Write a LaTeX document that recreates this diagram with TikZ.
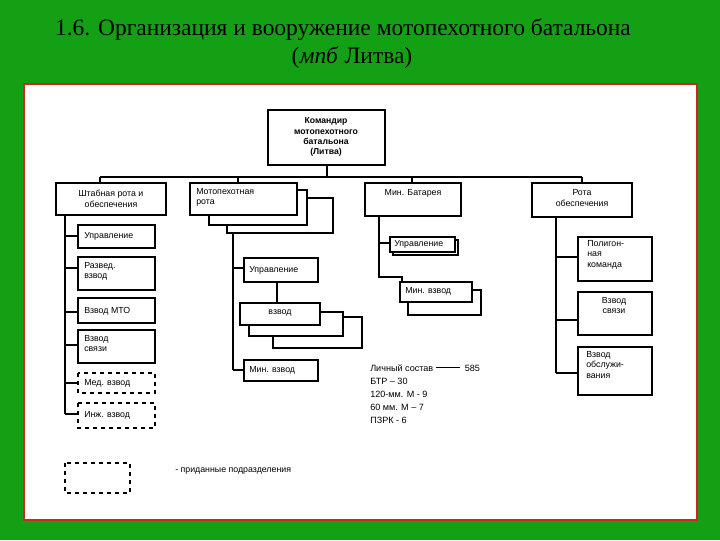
\documentclass[tikz,border=0pt]{standalone}
\usepackage{fontspec}
\setmainfont{Liberation Sans}
\newfontfamily\titlefont{Liberation Serif}
\definecolor{bg}{RGB}{20,160,20}
\definecolor{frame}{RGB}{200,40,30}
\begin{document}
\begin{tikzpicture}[x=0.75pt,y=-0.75pt,
  bx/.style={draw,line width=1pt,fill=white},
  dbx/.style={draw,line width=1pt,dashed,fill=white},
  ln/.style={line width=0.9pt},
  txt/.style={font=\fontsize{6.6}{7.8}\selectfont,align=left,anchor=north west,inner sep=0pt}]
\fill[bg] (0,0) rectangle (720,540);
\fill[white,draw=frame,line width=2pt] (24,84) rectangle (697,520);
\node[font=\titlefont\fontsize{17.6}{20}\selectfont] (t1) at (343,30) {1.6. Организация и вооружение мотопехотного батальона};
\node[font=\titlefont\fontsize{17.6}{20}\selectfont] (t2) at (352,58) {(\textit{мпб} Литва)};
% bus
\draw[ln] (100,177) -- (582,177);
\foreach \x in {100,238,412,582} \draw[ln] (\x,177) -- (\x,183);
\draw[ln] (327,165) -- (327,177);
% commander
\draw[bx] (268,110) rectangle (385,165);
\node[font=\bfseries\fontsize{6.5}{7.6}\selectfont,align=center] (cmd) at (326,137) {Командир\\мотопехотного\\батальона\\(Литва)};
% level 1
\draw[bx] (56,183) rectangle (166,215);
\node[txt,align=center,anchor=center] (a) at (111,199) {Штабная рота и\\обеспечения};
\draw[bx] (227,198) rectangle (333,233);
\draw[bx] (209,190) rectangle (307,225);
\draw[bx] (190,183) rectangle (297,215);
\node[txt] (b) at (196,188) {Мотопехотная\\рота};
\draw[bx] (365,183) rectangle (461,216);
\node[txt,anchor=center] (c) at (413,193) {Мин. Батарея};
\draw[bx] (532,183) rectangle (632,217);
\node[txt,align=center,anchor=center] (d) at (582,198) {Рота\\обеспечения};
% left column
\draw[ln] (65,215) -- (65,414);
\foreach \y in {236,268,312,345,383,414} \draw[ln] (65,\y) -- (78,\y);
\draw[bx] (78,225) rectangle (155,248); \node[txt,anchor=west] (a1) at (84,236) {Управление};
\draw[bx] (78,257) rectangle (155,290); \node[txt] (a2) at (84,262) {Развед.\\взвод};
\draw[bx] (78,298) rectangle (155,323); \node[txt,anchor=west] (a3) at (84,311) {Взвод МТО};
\draw[bx] (78,330) rectangle (155,363); \node[txt] (a4) at (84,335) {Взвод\\связи};
\draw[dbx] (78,373) rectangle (155,393); \node[txt,anchor=west] (a5) at (84,383) {Мед. взвод};
\draw[dbx] (78,403) rectangle (155,428); \node[txt,anchor=west] (a6) at (84,415) {Инж. взвод};
% motor rifle company
\draw[ln] (233,233) -- (233,370);
\draw[ln] (233,268) -- (244,268);
\draw[ln] (233,370) -- (244,370);
\draw[bx] (244,258) rectangle (318,282); \node[txt,anchor=west] (b1) at (249,270) {Управление};
\draw[ln] (277,282) -- (277,303);
\draw[bx] (273,317) rectangle (362,348);
\draw[bx] (249,312) rectangle (343,336);
\draw[bx] (240,303) rectangle (320,325); \node[txt,anchor=center] (b2) at (280,313) {взвод};
\draw[bx] (244,360) rectangle (318,381); \node[txt,anchor=west] (b3) at (249,370) {Мин. взвод};
% mortar battery
\draw[ln] (379,216) -- (379,277) -- (402,277) -- (402,282);
\draw[ln] (379,243) -- (390,243);
\draw[bx] (393,240) rectangle (458,255);
\draw[bx] (390,237) rectangle (455,252); \node[txt,anchor=west] (c1) at (394,244) {Управление};
\draw[bx] (408,290) rectangle (481,315);
\draw[bx] (400,282) rectangle (472,302); \node[txt,anchor=west] (c2) at (405,291) {Мин. взвод};
% support company
\draw[ln] (556,217) -- (556,373);
\foreach \y in {257,320,373} \draw[ln] (556,\y) -- (578,\y);
\draw[bx] (578,237) rectangle (652,281); \node[txt] (d1) at (587,240) {Полигон-\\ная\\команда};
\draw[bx] (578,292) rectangle (652,335); \node[txt,align=center,anchor=north] (d2) at (614,297) {Взвод\\связи};
\draw[bx] (578,347) rectangle (652,395); \node[txt] (d3) at (586,351) {Взвод\\обслужи-\\вания};
% stats
\node[txt,font=\fontsize{6.8}{9.8}\selectfont] (s) at (370,364) {Личный состав \rule[2pt]{18pt}{0.9pt}\ \ 585\\БТР -- 30\\120-мм. М - 9\\60 мм. М -- 7\\ПЗРК - 6};
% legend
\draw[dbx] (65,463) rectangle (130,493);
\node[txt,anchor=west] (lg) at (175,471) {- приданные подразделения};
\end{tikzpicture}
\end{document}
